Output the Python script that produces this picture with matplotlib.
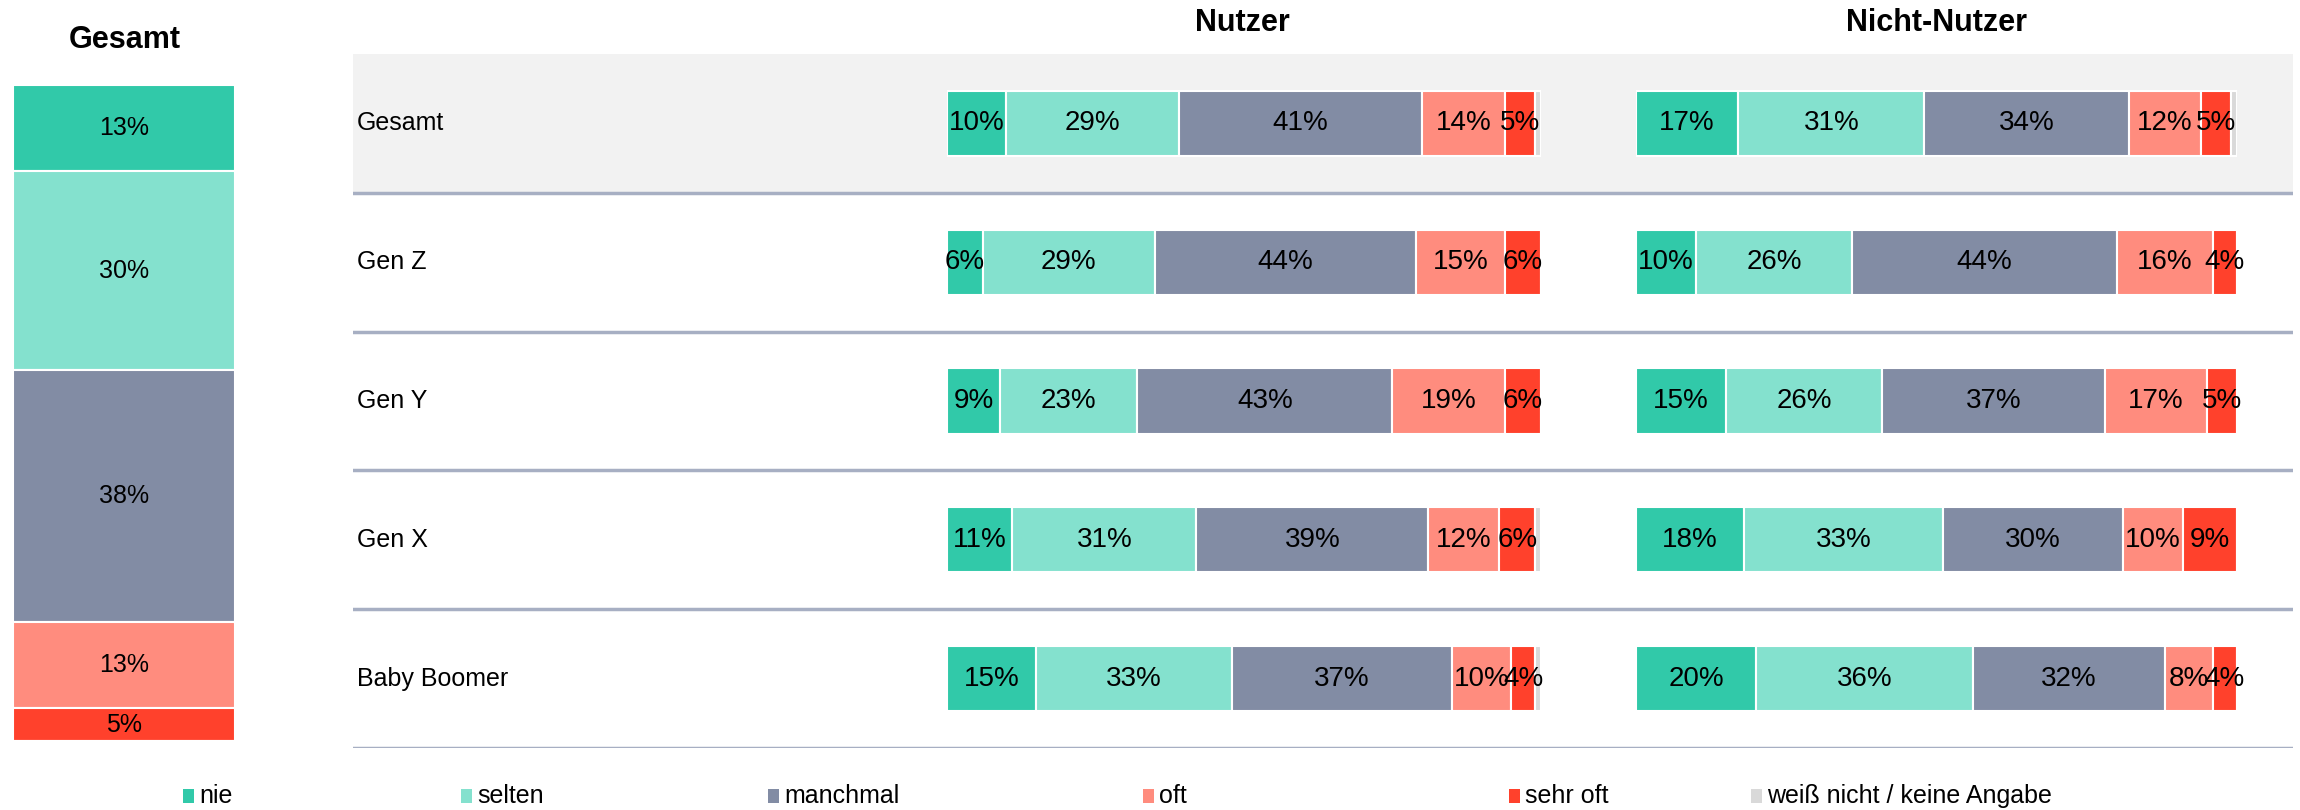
import matplotlib
matplotlib.use("Agg")
import matplotlib.pyplot as plt
from matplotlib.patches import Rectangle

# Antwortkategorien und Farben
categories = ["nie", "selten", "manchmal", "oft", "sehr oft", "weiß nicht / keine Angabe"]
colors = ["#31c9a9", "#84e1ce", "#828ca4", "#ff8c7e", "#ff412c", "#d9d9d9"]

groups = ["Gesamt", "Gen Z", "Gen Y", "Gen X", "Baby Boomer"]

# Gesamt (linker Balken)
total = [13, 30, 38, 13, 5, 0.3]

# Nutzer, je Kategorie über die Gruppen
nutzer_nie = [10, 6, 9, 11, 15]
nutzer_selten = [29, 29, 23, 31, 33]
nutzer_manchmal = [41, 44, 43, 39, 37]
nutzer_oft = [14, 15, 19, 12, 10]
nutzer_sehr_oft = [5, 6, 6, 6, 4]
nutzer_wn = [1, 0.5, 0.5, 1, 1]

# Nicht-Nutzer
nicht_nie = [17, 10, 15, 18, 20]
nicht_selten = [31, 26, 26, 33, 36]
nicht_manchmal = [34, 44, 37, 30, 32]
nicht_oft = [12, 16, 17, 10, 8]
nicht_sehr_oft = [5, 4, 5, 9, 4]
nicht_wn = [1, 0.5, 0.5, 0.5, 0.5]

nutzer = [nutzer_nie, nutzer_selten, nutzer_manchmal, nutzer_oft, nutzer_sehr_oft, nutzer_wn]
nicht = [nicht_nie, nicht_selten, nicht_manchmal, nicht_oft, nicht_sehr_oft, nicht_wn]

W, H = 2300, 810
plt.rcParams["font.family"] = ["Liberation Sans", "DejaVu Sans"]

fig = plt.figure(figsize=(W / 100, H / 100), dpi=100)


def px_axes(x0, y0, x1, y1, **kw):
    # Achse in Pixelkoordinaten (oben links = 0,0)
    return fig.add_axes([x0 / W, 1 - y1 / H, (x1 - x0) / W, (y1 - y0) / H], **kw)


# linker Gesamt-Balken
axl = px_axes(13, 85, 235, 748)
bottom = 0
for i, v in enumerate(total):
    axl.bar(0, v, bottom=bottom, width=1, color=colors[i], edgecolor="white", linewidth=1.5)
    if i < 5:
        axl.text(0, bottom + v / 2, f"{v}%", ha="center", va="center", fontsize=18)
    bottom += v
axl.set_ylim(100, 0)
axl.set_xlim(-0.5, 0.5)
axl.axis("off")
fig.text(125 / W, 1 - 40 / H, "Gesamt", ha="center", va="center", fontsize=22, fontweight="bold")

# Hintergrund mit Zeilen
axbg = px_axes(353, 54, 2293, 748)
axbg.set_xlim(0, 1)
axbg.set_ylim(len(groups) - 0.5, -0.5)
axbg.axhspan(-0.5, 0.5, color="#f2f2f2", lw=0)
for k in range(len(groups)):
    axbg.axhline(k + 0.5, color="#a7afc3", lw=2.5)
    axbg.text(0.002, k, groups[k], ha="left", va="center", fontsize=18)
axbg.axis("off")


def stacked(ax, data):
    for k in range(len(groups)):
        left = 0
        for i in range(len(categories)):
            v = data[i][k]
            ax.barh(k, v, left=left, height=0.47, color=colors[i], edgecolor="white", linewidth=1.5)
            if i < 5:
                ax.text(left + v / 2, k, f"{v}%", ha="center", va="center", fontsize=20)
            left += v
    ax.set_xlim(0, 100)
    ax.set_ylim(len(groups) - 0.5, -0.5)
    ax.axis("off")


ax1 = px_axes(947, 54, 1541, 748)
stacked(ax1, nutzer)
ax2 = px_axes(1636, 54, 2237, 748)
stacked(ax2, nicht)
fig.text(1242 / W, 1 - 23 / H, "Nutzer", ha="center", va="center", fontsize=22, fontweight="bold")
fig.text(1936 / W, 1 - 23 / H, "Nicht-Nutzer", ha="center", va="center", fontsize=22, fontweight="bold")

# Legende
leg_x = [183, 461, 768, 1143, 1509, 1751]
for x, c, lab in zip(leg_x, colors, categories):
    fig.patches.append(Rectangle((x / W, 1 - 803 / H), 11 / W, 14 / H, transform=fig.transFigure,
                                 color=c, lw=0))
    fig.text((x + 16) / W, 1 - 796 / H, lab, ha="left", va="center", fontsize=18)

fig.savefig("out.png", dpi=100)
